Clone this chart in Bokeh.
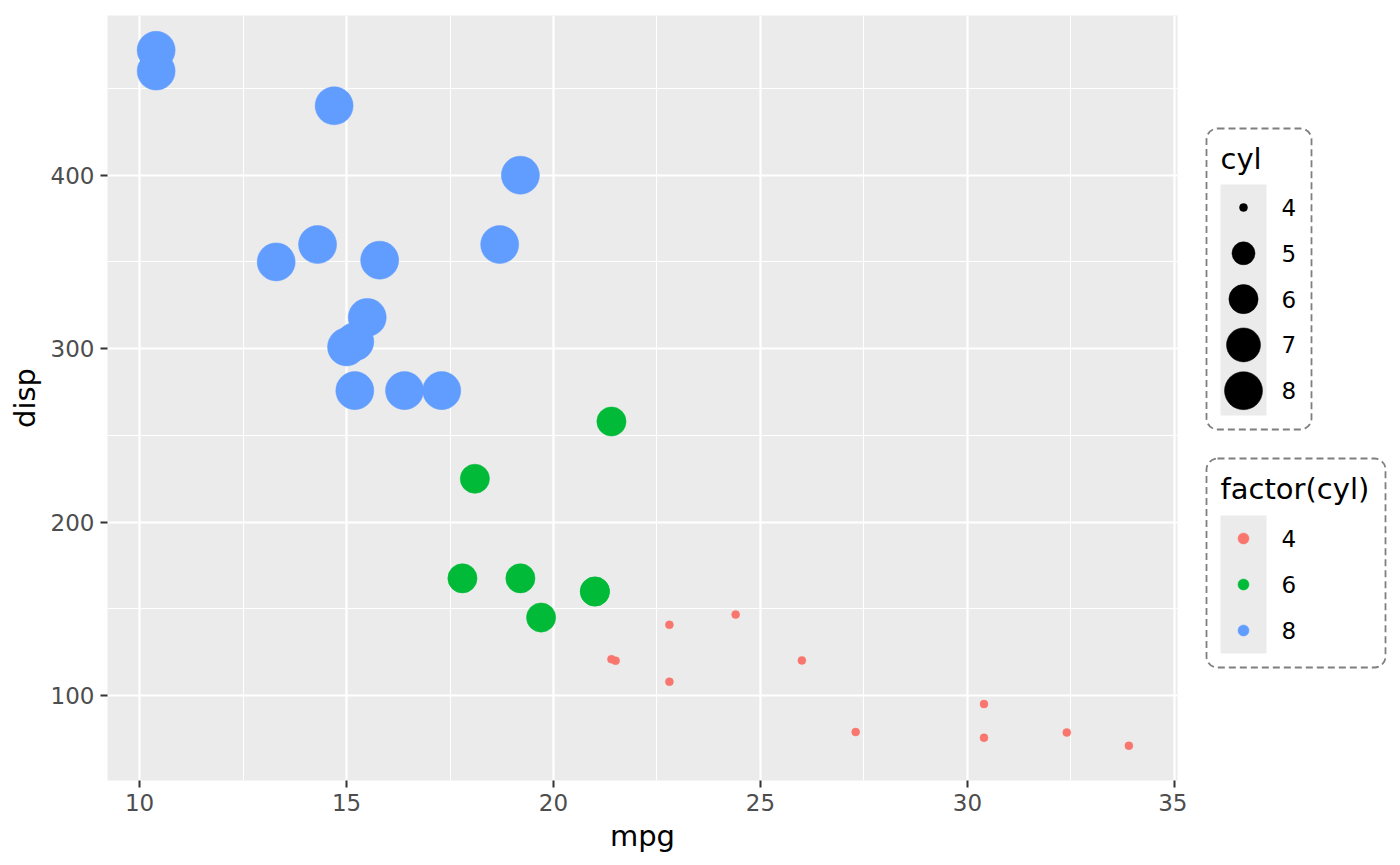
import math
from bokeh.plotting import figure
from bokeh.layouts import row
from bokeh.models import Range1d, SingleIntervalTicker, ColumnDataSource
from bokeh.core.properties import value
from bokeh.embed import file_html
from bokeh.resources import INLINE

# ---- data (mtcars: mpg, disp, cyl) ----
mpg = [21.0, 21.0, 22.8, 21.4, 18.7, 18.1, 14.3, 24.4, 22.8, 19.2, 17.8, 16.4,
       17.3, 15.2, 10.4, 10.4, 14.7, 32.4, 30.4, 33.9, 21.5, 15.5, 15.2, 13.3,
       19.2, 27.3, 26.0, 30.4, 15.8, 19.7, 15.0, 21.4]
disp = [160.0, 160.0, 108.0, 258.0, 360.0, 225.0, 360.0, 146.7, 140.8, 167.6,
        167.6, 275.8, 275.8, 275.8, 472.0, 460.0, 440.0, 78.7, 75.7, 71.1,
        120.1, 318.0, 304.0, 350.0, 400.0, 79.0, 120.3, 95.1, 351.0, 145.0,
        301.0, 121.0]
cyl = [6, 6, 4, 6, 8, 6, 8, 4, 4, 6, 6, 8, 8, 8, 8, 8, 8, 4, 4, 4, 4, 8, 8, 8,
       8, 4, 4, 4, 8, 6, 8, 4]

x_ticks = [10, 15, 20, 25, 30, 35]
y_ticks = [100, 200, 300, 400]
size_breaks = [4, 5, 6, 7, 8]
color_levels = [4, 6, 8]
color_values = ["#F8766D", "#00BA38", "#619CFF"]

FONT = "DejaVu Sans"
TICK_FS = "23px"
TITLE_FS = "29px"
cmap = dict(zip(color_levels, color_values))
cmin, cmax = min(cyl), max(cyl)


def size_px(c):
    t = (c - cmin) / (cmax - cmin)
    s_mm = 1 + 5 * math.sqrt(t)
    return 2.11 * (s_mm * 2.845 + 0.945)


# ---- main panel ----
xmin, xmax = min(mpg), max(mpg)
ymin, ymax = min(disp), max(disp)
xpad = (xmax - xmin) * 0.05
ypad = (ymax - ymin) * 0.05

p = figure(width=1187, height=865,
           x_range=Range1d(xmin - xpad, xmax + xpad),
           y_range=Range1d(ymin - ypad, ymax + ypad),
           output_backend="svg", toolbar_location=None,
           min_border_left=107, min_border_right=10,
           min_border_top=15, min_border_bottom=85)
p.background_fill_color = "#EBEBEB"
p.border_fill_color = "white"
p.outline_line_color = None

p.xaxis.ticker = SingleIntervalTicker(interval=5, num_minor_ticks=2)
p.yaxis.ticker = SingleIntervalTicker(interval=100, num_minor_ticks=2)
for g in (p.xgrid, p.ygrid):
    g.grid_line_color = "white"
    g.grid_line_width = 2.2
    g.minor_grid_line_color = "white"
    g.minor_grid_line_width = 1.1

for ax in (p.xaxis, p.yaxis):
    ax.axis_line_color = None
    ax.major_tick_line_color = "#333333"
    ax.major_tick_line_width = 2
    ax.major_tick_out = 7
    ax.major_tick_in = 0
    ax.minor_tick_line_color = None
    ax.major_label_text_color = "#4D4D4D"
    ax.major_label_text_font = FONT
    ax.major_label_text_font_size = TICK_FS
    ax.major_label_standoff = 6
    ax.axis_label_text_font = FONT
    ax.axis_label_text_font_size = TITLE_FS
    ax.axis_label_text_font_style = "normal"
    ax.axis_label_text_color = "black"
p.xaxis.axis_label = "mpg"
p.yaxis.axis_label = "disp"
p.xaxis.axis_label_standoff = 5
p.yaxis.axis_label_standoff = 6

src = ColumnDataSource(dict(
    x=mpg, y=disp,
    color=[cmap[c] for c in cyl],
    size=[size_px(c) for c in cyl],
))
p.scatter("x", "y", source=src, size="size", fill_color="color",
          line_color="color", line_width=0.5)

# ---- legend area (page pixel coordinates; frame aligned with main panel) ----
LW = 213
OX = 1187  # page x offset of legend figure
lg = figure(width=LW, height=865, x_range=Range1d(0, LW),
            y_range=Range1d(780, 15),
            output_backend="svg", toolbar_location=None,
            min_border_left=0, min_border_right=0,
            min_border_top=15, min_border_bottom=85)
lg.axis.visible = False
lg.grid.visible = False
lg.outline_line_color = None
lg.background_fill_color = "white"
lg.border_fill_color = "white"


def X(px):
    return px - OX


BOX = dict(border_radius=11, fill_color=None, line_color="#7F7F7F",
           line_width=1.8, line_dash="7 4")

# legend 1: cyl (size)
lg.quad(left=[X(1206)], right=[X(1311)], top=[128], bottom=[429], **BOX)
lg.text(x=[X(1220)], y=[158], text=["cyl"], text_font=value(FONT),
        text_font_size=value(TITLE_FS), text_baseline="middle",
        text_align="left", text_color="black")
lg.quad(left=[X(1220)], right=[X(1266)], top=[184], bottom=[415],
        fill_color="#EBEBEB", line_color=None)
key_y1 = [207 + i * 45.8 for i in range(len(size_breaks))]
lg.scatter(x=[X(1243)] * len(size_breaks), y=key_y1,
           size=[size_px(c) for c in size_breaks],
           fill_color="black", line_color="black", line_width=0.5)
lg.text(x=[X(1281)] * len(size_breaks), y=key_y1,
        text=[str(b) for b in size_breaks], text_font=value(FONT),
        text_font_size=value(TICK_FS), text_baseline="middle",
        text_align="left", text_color="black")

# legend 2: factor(cyl) (colour)
lg.quad(left=[X(1206)], right=[X(1385)], top=[458], bottom=[667], **BOX)
lg.text(x=[X(1220)], y=[488], text=["factor(cyl)"], text_font=value(FONT),
        text_font_size=value(TITLE_FS), text_baseline="middle",
        text_align="left", text_color="black")
lg.quad(left=[X(1220)], right=[X(1266)], top=[515], bottom=[653],
        fill_color="#EBEBEB", line_color=None)
key_y2 = [538 + i * 46 for i in range(len(color_levels))]
lg.scatter(x=[X(1243)] * len(color_levels), y=key_y2, size=11,
           fill_color=color_values, line_color=color_values, line_width=0.5)
lg.text(x=[X(1281)] * len(color_levels), y=key_y2,
        text=[str(c) for c in color_levels], text_font=value(FONT),
        text_font_size=value(TICK_FS), text_baseline="middle",
        text_align="left", text_color="black")

layout = row(p, lg, spacing=0)
open("out.html", "w").write(file_html(layout, INLINE))
